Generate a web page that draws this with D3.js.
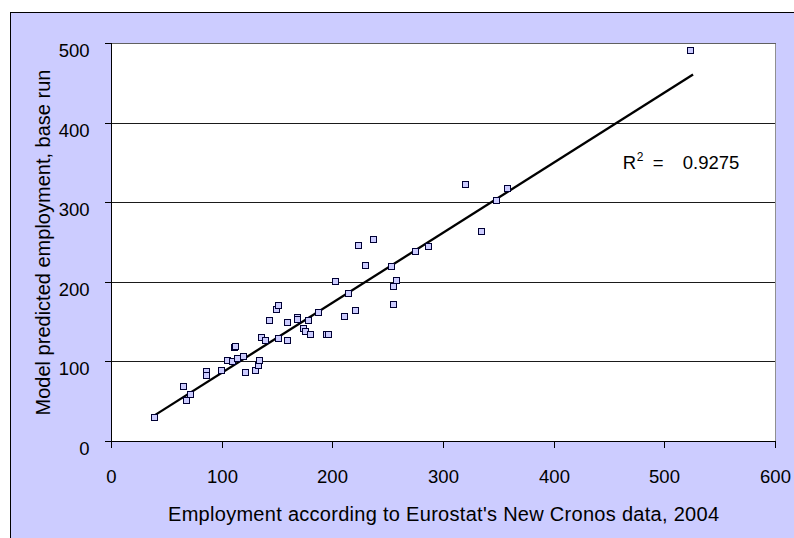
<!DOCTYPE html>
<html>
<head>
<meta charset="utf-8">
<script src="https://cdn.jsdelivr.net/npm/d3@7"></script>
<style>
  html, body { margin: 0; padding: 0; background: #ffffff; }
  svg { display: block; }
  text { font-family: "Liberation Sans", Arial, sans-serif; fill: #000; }
</style>
</head>
<body>
<svg id="chart" width="794" height="538"></svg>
<script>
// ---- data ----
const xValues = [38, 65, 67, 71, 85, 85, 99, 104, 109, 111, 112, 113, 119, 121, 130, 132, 133, 135, 139, 142,
                 149, 150, 150, 159, 159, 168, 168, 173, 175, 179, 178, 187, 194, 196, 202, 210, 214, 220, 223, 229,
                 236, 253, 254, 257, 254, 274, 286, 319, 334, 347, 357, 523];
const yValues = [31, 70, 52, 60, 88, 83, 90, 103, 101, 119, 120, 105, 107, 87, 90, 96, 103, 131, 127, 153,
                 166, 171, 130, 150, 127, 156, 154, 142, 139, 135, 153, 163, 135, 135, 202, 158, 187, 165, 247, 222,
                 254, 220, 195, 203, 173, 239, 245, 323, 265, 304, 318, 492];
const trendX = [38.5, 525.5];
const trendY = [32.5, 461];
const xTicks = [0, 100, 200, 300, 400, 500, 600];
const yTicks = [0, 100, 200, 300, 400, 500];
const xTitle = "Employment according to Eurostat's New Cronos data, 2004";
const yTitle = "Model predicted employment, base run";
const rSquared = "0.9275";

// ---- layout ----
const svg = d3.select("#chart");
const plot = { left: 111.5, right: 775.5, top: 43.5, bottom: 441.5 };
const x = d3.scaleLinear().domain([0, 600]).range([plot.left, plot.right]);
const y = d3.scaleLinear().domain([0, 500]).range([plot.bottom, plot.top]);
const crisp = v => Math.round(v - 0.5) + 0.5;

// outer chart area
svg.append("rect").attr("x", 10.5).attr("y", 12.5).attr("width", 800).attr("height", 540)
  .attr("fill", "#ccccff").attr("stroke", "#000").attr("stroke-width", 1);

// plot area
svg.append("rect").attr("x", plot.left).attr("y", plot.top)
  .attr("width", plot.right - plot.left).attr("height", plot.bottom - plot.top)
  .attr("fill", "#ffffff");

// gridlines
svg.append("g").selectAll("line").data(yTicks.filter(d => d > 0)).join("line")
  .attr("x1", plot.left).attr("x2", plot.right)
  .attr("y1", d => crisp(y(d))).attr("y2", d => crisp(y(d)))
  .attr("stroke", d => d === 500 ? "#606060" : "#1a1a1a").attr("stroke-width", 1)
  .attr("shape-rendering", "crispEdges");

// right border of plot
svg.append("line").attr("x1", crisp(plot.right)).attr("x2", crisp(plot.right))
  .attr("y1", plot.top).attr("y2", plot.bottom)
  .attr("stroke", "#909090").attr("shape-rendering", "crispEdges");

// y axis
const yAxis = d3.axisLeft(y).tickValues(yTicks).tickSize(7).tickPadding(15).tickFormat(d3.format("d"));
const gy = svg.append("g").attr("transform", `translate(${crisp(plot.left)},0)`).call(yAxis);
gy.select(".domain").attr("d", `M0,${plot.top}V${plot.bottom + 6}`).attr("stroke", "#000").attr("shape-rendering", "crispEdges");
gy.selectAll(".tick line").attr("stroke", "#000").attr("shape-rendering", "crispEdges");
gy.selectAll(".tick").attr("transform", d => `translate(0,${crisp(y(d))})`);
gy.selectAll(".tick text").attr("font-size", "18.5px").attr("font-family", "Liberation Sans, Arial, sans-serif")
  .attr("dy", "13.5").attr("fill", "#000");

// x axis
const xAxis = d3.axisBottom(x).tickValues(xTicks).tickSize(6).tickPadding(22).tickFormat(d3.format("d"));
const gx = svg.append("g").attr("transform", `translate(0,${crisp(plot.bottom)})`).call(xAxis);
gx.select(".domain").attr("d", `M${plot.left - 7},0H${plot.right}`).attr("stroke", "#000").attr("shape-rendering", "crispEdges");
gx.selectAll(".tick line").attr("stroke", "#000").attr("shape-rendering", "crispEdges");
gx.selectAll(".tick").attr("transform", d => `translate(${crisp(x(d))},0)`);
gx.selectAll(".tick text").attr("font-size", "18.5px").attr("font-family", "Liberation Sans, Arial, sans-serif")
  .attr("dy", "0.71em").attr("fill", "#000");

// trend line
const line = d3.line().x(d => x(d[0])).y(d => y(d[1]));
svg.append("path").datum(d3.zip(trendX, trendY))
  .attr("d", line).attr("fill", "none").attr("stroke", "#000").attr("stroke-width", 2.3);

// markers
const pts = d3.zip(xValues, yValues);
const ms = 6;
svg.append("g").selectAll("rect").data(pts).join("rect")
  .attr("x", d => Math.round(x(d[0]) - ms / 2) + 0.5)
  .attr("y", d => Math.round(y(d[1]) - ms / 2) + 0.5)
  .attr("width", ms).attr("height", ms)
  .attr("fill", "#ccccff").attr("stroke", "#000033").attr("stroke-width", 1);

// R² annotation
const ax = x(462), ay = y(342);
const rt = svg.append("text").attr("x", ax).attr("y", ay).attr("font-size", "18.5px");
rt.append("tspan").attr("x", ax).text("R");
rt.append("tspan").attr("x", ax + 14).attr("dy", -8).attr("font-size", "12px").text("2");
rt.append("tspan").attr("x", ax + 30).attr("dy", 8).text("=");
rt.append("tspan").attr("x", ax + 60).text(rSquared);

// axis titles
svg.append("text").attr("x", (plot.left + plot.right) / 2).attr("y", 520.5)
  .attr("text-anchor", "middle").attr("font-size", "20px")
  .attr("textLength", 551).attr("lengthAdjust", "spacing").text(xTitle);
svg.append("text").attr("transform", `translate(49.5,${(plot.top + plot.bottom) / 2}) rotate(-90)`)
  .attr("text-anchor", "middle").attr("font-size", "20px")
  .attr("textLength", 346).attr("lengthAdjust", "spacing").text(yTitle);
</script>
</body>
</html>
